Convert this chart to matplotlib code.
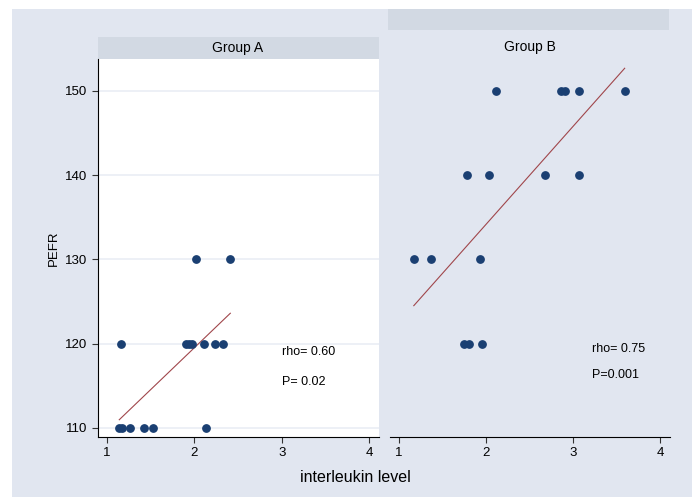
import numpy as np
import matplotlib.pyplot as plt
from matplotlib.patches import Rectangle

plt.rcParams['font.family'] = ['Liberation Sans', 'DejaVu Sans']

# Group A: interleukin level vs PEFR
a_x = [2.02, 2.41, 1.16, 1.90, 1.94, 1.97, 2.11, 2.24, 2.33,
       1.14, 1.17, 1.26, 1.42, 1.53, 2.13]
a_y = [130, 130, 120, 120, 120, 120, 120, 120, 120,
       110, 110, 110, 110, 110, 110]
a_fit_x = [1.14, 2.41]
a_fit_y = [110.95, 123.6]

# Group B
b_x = [2.11, 2.86, 2.90, 3.07, 3.59, 1.78, 2.03, 2.67, 3.07,
       1.17, 1.37, 1.93, 1.75, 1.80, 1.95]
b_y = [150, 150, 150, 150, 150, 140, 140, 140, 140,
       130, 130, 130, 120, 120, 120]
b_fit_x = [1.17, 3.59]
b_fit_y = [124.5, 152.7]

y_ticks = [110, 120, 130, 140, 150]
x_ticks = [1, 2, 3, 4]

bg = '#e1e6f0'
strip = '#d2d9e3'
navy = '#1a3f72'
maroon = '#a0464b'

W, H = 697, 498
fig = plt.figure(figsize=(W / 100, H / 100), dpi=100)
fig.patch.set_facecolor('white')

def px(x0, y0, x1, y1):
    # pixel box -> figure fraction [left, bottom, width, height]
    return [x0 / W, 1 - y1 / H, (x1 - x0) / W, (y1 - y0) / H]

# outer light background
l, b, w, h = px(12, 9, 692, 497)
fig.patches.append(Rectangle((l, b), w, h, transform=fig.transFigure,
                             facecolor=bg, edgecolor='none', zorder=-10))

# strips
for box in [(98, 37, 379, 59), (388, 9, 669, 30)]:
    l, b, w, h = px(*box)
    fig.patches.append(Rectangle((l, b), w, h, transform=fig.transFigure,
                                 facecolor=strip, edgecolor='none', zorder=-5))
fig.text(238 / W, 1 - 48 / H, 'Group A', ha='center', va='center', fontsize=10)
fig.text(530 / W, 1 - 47 / H, 'Group B', ha='center', va='center', fontsize=10)

axA = fig.add_axes(px(98, 59, 379, 437))
axB = fig.add_axes(px(390, 59, 670, 437))

for ax in (axA, axB):
    ax.set_xlim(0.897, 4.11)
    ax.set_ylim(108.9, 153.8)
    ax.set_xticks(x_ticks)
    ax.spines['top'].set_visible(False)
    ax.spines['right'].set_visible(False)
    ax.tick_params(labelsize=9.5, length=4, width=0.8, color='#333333')

axA.set_facecolor('white')
axA.set_yticks(y_ticks)
for yv in y_ticks:
    axA.axhline(yv, color='#eaeef5', lw=1.2, zorder=0)
axA.scatter(a_x, a_y, s=28, color=navy, zorder=3)
axA.plot(a_fit_x, a_fit_y, color=maroon, lw=0.8, zorder=2)
axA.text(3.0, 119.05, 'rho= 0.60', fontsize=9, va='center')
axA.text(3.0, 115.4, 'P= 0.02', fontsize=9, va='center')
axA.set_ylabel('PEFR', fontsize=9.5)

axB.patch.set_visible(False)
axB.spines['left'].set_visible(False)
axB.set_yticks([])
axB.scatter(b_x, b_y, s=28, color=navy, zorder=3)
axB.plot(b_fit_x, b_fit_y, color=maroon, lw=0.8, zorder=2)
axB.text(3.21, 119.3, 'rho= 0.75', fontsize=9, va='center')
axB.text(3.21, 116.3, 'P=0.001', fontsize=9, va='center')

fig.text(355 / W, 1 - 477 / H, 'interleukin level', ha='center', va='center',
         fontsize=11.5)

fig.savefig('out.png', dpi=100)
